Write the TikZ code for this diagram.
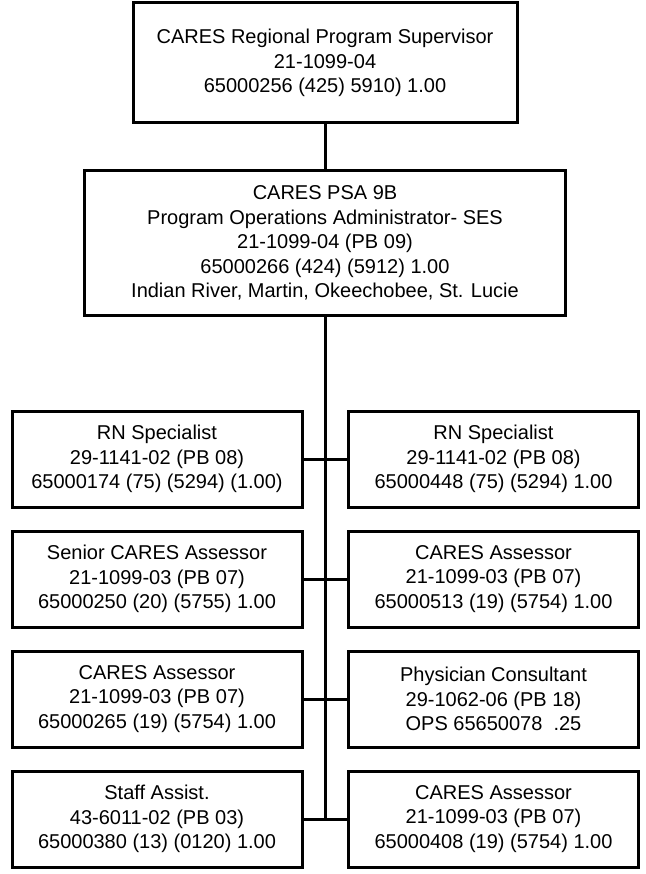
\documentclass[tikz,border=0pt]{standalone}
\usepackage{fontspec}
\setmainfont{Liberation Sans}
\begin{document}
\begin{tikzpicture}[x=1pt,y=-1pt,
  box/.style={draw=black, line width=3pt, rectangle, align=center, inner sep=0pt,
    font=\fontsize{20}{24.5}\selectfont},
  small/.style={box, minimum width=290pt, minimum height=96pt},
  conn/.style={draw=black, line width=3pt}]
\useasboundingbox (0,0) rectangle (645,874);
\node[box, minimum width=384pt, minimum height=120pt] (top) at (325,63)
  {CARES Regional Program Supervisor\\21-1099-04\\65000256 (425) 5910) 1.00};
\node[box, minimum width=481pt, minimum height=144pt] (psa) at (325,243)
  {CARES PSA 9B\\Program Operations Administrator- SES\\21-1099-04 (PB 09)\\65000266 (424) (5912) 1.00\\Indian River, Martin, Okeechobee, St. Lucie};
\node[small] (l1) at (157,459) {RN Specialist\\29-1141-02 (PB 08)\\65000174 (75) (5294) (1.00)};
\node[small] (r1) at (493.5,459) {RN Specialist\\29-1141-02 (PB 08)\\65000448 (75) (5294) 1.00};
\node[small] (l2) at (157,579) {Senior CARES Assessor\\21-1099-03 (PB 07)\\65000250 (20) (5755) 1.00};
\node[small] (r2) at (493.5,579) {CARES Assessor\\21-1099-03 (PB 07)\\65000513 (19) (5754) 1.00};
\node[small] (l3) at (157,699) {CARES Assessor\\21-1099-03 (PB 07)\\65000265 (19) (5754) 1.00};
\node[small] (r3) at (493.5,699) {Physician Consultant\\29-1062-06 (PB 18)\\OPS 65650078\ \ .25};
\node[small] (l4) at (157,819) {Staff Assist.\\43-6011-02 (PB 03)\\65000380 (13) (0120) 1.00};
\node[small] (r4) at (493.5,819) {CARES Assessor\\21-1099-03 (PB 07)\\65000408 (19) (5754) 1.00};
\coordinate (spineend) at (psa.south |- l4.east);
\draw[conn] (top.south) -- (psa.north);
\draw[conn] (psa.south) -- (spineend);
\draw[conn] (l1.east) -- (r1.west);
\draw[conn] (l2.east) -- (r2.west);
\draw[conn] (l3.east) -- (r3.west);
\draw[conn] (l4.east) -- (r4.west);
\end{tikzpicture}
\end{document}
